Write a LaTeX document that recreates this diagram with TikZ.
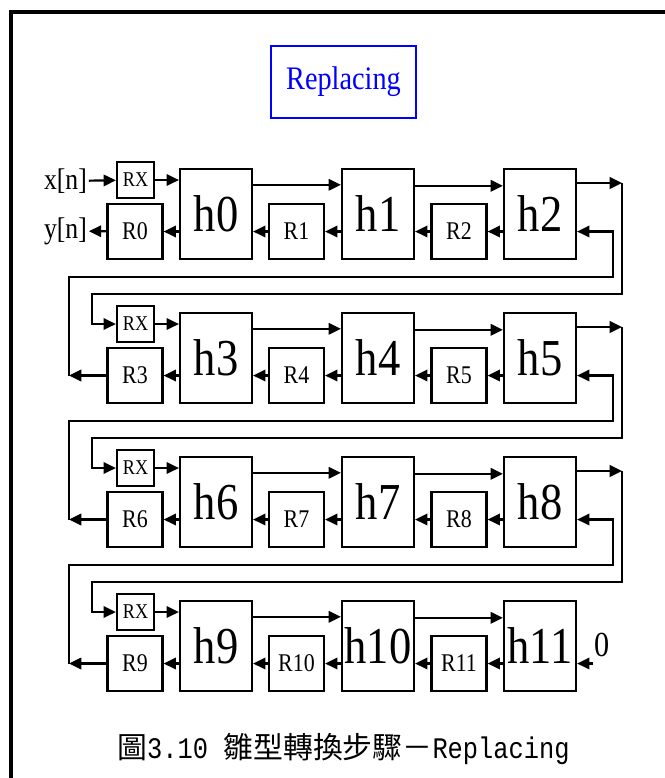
\documentclass[tikz,border=0pt]{standalone}
\usepackage{fontspec}
\setmainfont[FakeStretch=0.86]{Liberation Serif}
\newfontfamily\cjk{Noto Sans CJK TC}
\newfontfamily\capmono[FakeStretch=0.85]{Liberation Mono}
\usetikzlibrary{arrows.meta}

\tikzset{
  hbox/.style={draw, minimum width=1.44cm, minimum height=1.8cm, inner sep=0pt,
    font=\fontsize{29.5}{30}\selectfont},
  rbox/.style={draw, minimum width=1.1cm, minimum height=1.1cm, inner sep=0pt,
    font=\fontsize{14.5}{15}\selectfont},
  rxbox/.style={draw, minimum width=0.74cm, minimum height=0.72cm, inner sep=0pt,
    font=\fontsize{12}{12}\selectfont},
  iolabel/.style={inner sep=0.5pt, font=\fontsize{17}{17}\selectfont},
}

\begin{document}
\begin{tikzpicture}[x=0.02cm, y=-0.02cm, line width=1.25pt,
    >={Triangle[length=7pt,width=6.5pt]}]
  \clip (0,0) rectangle (665,778);
  \draw[line width=2.4pt] (11,12) rectangle (720,840); % frame, runs off the page

  \node[draw=blue, text=blue, line width=0.9pt, minimum width=2.9cm, minimum height=1.44cm,
    font=\fontsize{18.7}{19}\selectfont] (title) at (343.5,82) {Replacing};

  % four rows of taps: RX, three h stages, three R registers
  \foreach \r in {0,...,3} {
    \pgfmathsetmacro\y{144*\r}
    \pgfmathtruncatemacro\a{3*\r}
    \pgfmathtruncatemacro\b{3*\r+1}
    \pgfmathtruncatemacro\c{3*\r+2}
    \node[rxbox] (rx\r) at (135.5,180+\y) {RX};
    \node[hbox] (h\a) at (216,214+\y) {h\a};
    \node[hbox] (h\b) at (378,214+\y) {h\b};
    \node[hbox] (h\c) at (540,214+\y) {h\c};
    \node[rbox] (r\a) at (135,231.5+\y) {R\a};
    \node[rbox] (r\b) at (296.5,231.5+\y) {R\b};
    \node[rbox] (r\c) at (459,231.5+\y) {R\c};
    \draw[->] (rx\r) -- (rx\r -| h\a.west);
    \draw[->] ([yshift=-9.6pt]h\a.north east) -- ([yshift=-9.6pt]h\b.north west);
    \draw[->] ([yshift=-10.2pt]h\b.north east) -- ([yshift=-10.2pt]h\c.north west);
    \draw[->] (h\c.west |- r\c.east) -- (r\c.east);
    \draw[->] (r\c.west) -- (r\c.west -| h\b.east);
    \draw[->] (h\b.west |- r\b.east) -- (r\b.east);
    \draw[->] (r\b.west) -- (r\b.west -| h\a.east);
    \draw[->] (h\a.west |- r\a.east) -- (r\a.east);
  }

  % links from one row to the next
  \foreach \r/\n in {0/1,1/2,2/3} {
    \pgfmathsetmacro\y{144*\r}
    \pgfmathsetmacro\yn{144*\n}
    \pgfmathtruncatemacro\c{3*\r+2}
    \pgfmathtruncatemacro\d{3*\n}
    \coordinate (o\r) at (622,183+\y);
    \coordinate (l\r) at (92,294+\y);
    \coordinate (m\r) at (69,231.5+\yn);
    \coordinate (k\r) at (613,277+\y);
    \draw[->] (h\c.east |- o\r) -- (o\r);
    \draw[->] (o\r) |- (l\r) |- (rx\n.west);
    \draw[->] (r\d.west) -- (m\r);
    \draw[->] (m\r) |- (k\r) |- (h\c.east |- r\c.east);
  }

  % input and output of the chain
  \node[iolabel] (xn) at (65.5,181) {x[n]};
  \node[iolabel] (yn) at (65.5,231) {y[n]};
  \draw[->] (xn) -- (rx0);
  \draw[->] (r0) -- (yn);
  \node[anchor=south west, inner xsep=0pt, inner ysep=3pt,
    font=\fontsize{20}{20}\selectfont] (zero) at (593,663.5) {0};
  \draw[->] (zero.south west) -- (zero.south west -| h11.east);

  \node[font=\fontsize{17}{17}\selectfont] (caption) at (343.5,749)
    {{\cjk 圖}{\capmono 3.10 }{\cjk 雛型轉換步驟－}{\capmono Replacing}};
\end{tikzpicture}
\end{document}
